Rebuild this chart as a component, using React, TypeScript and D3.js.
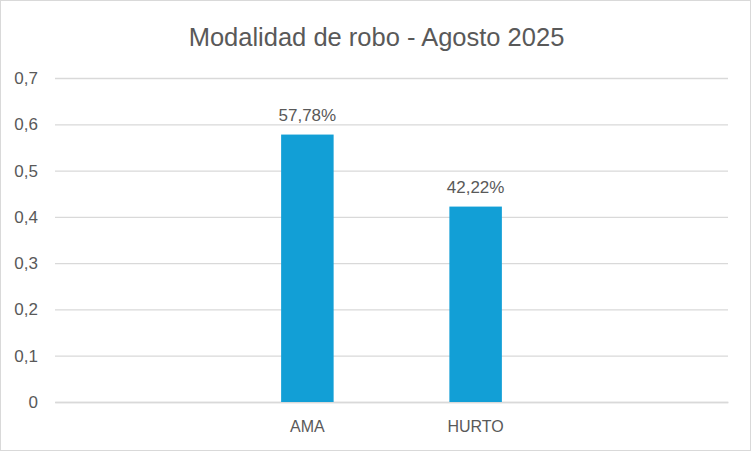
import React, { useRef, useEffect } from "react";
import { select, scaleLinear, scaleBand, axisLeft, axisBottom, range } from "d3";

const categories = ["", "AMA", "HURTO", " "];
const values = [null, 0.5778, 0.4222, null];
const valueLabels = ["", "57,78%", "42,22%", ""];
const yTicks = [0, 0.1, 0.2, 0.3, 0.4, 0.5, 0.6, 0.7];
const titleText = "Modalidad de robo - Agosto 2025";

const W = 752;
const H = 452;
const FONT = "'Liberation Sans', Arial, sans-serif";
const TEXT = "#595959";
const GRID = "#d9d9d9";
const BAR = "#129fd6";

const App: React.FC = () => {
  const ref = useRef<SVGSVGElement | null>(null);

  useEffect(() => {
    const svg = select(ref.current);
    svg.selectAll("*").remove();

    const margin = { top: 78, right: 24, bottom: 50, left: 55 };
    const innerWidth = W - margin.left - margin.right;
    const innerHeight = 402 - margin.top;

    svg
      .append("rect")
      .attr("x", 0.5)
      .attr("y", 0.5)
      .attr("width", 750)
      .attr("height", 450)
      .attr("fill", "#fff")
      .attr("stroke", GRID);

    svg
      .append("text")
      .attr("x", W / 2 + 0.5)
      .attr("y", 46)
      .attr("text-anchor", "middle")
      .attr("fill", TEXT)
      .style("font-family", FONT)
      .style("font-size", "25.5px")
      .text(titleText);

    const xScale = scaleBand<number>()
      .domain(range(categories.length))
      .range([0, innerWidth])
      .paddingInner(0)
      .paddingOuter(0);

    const yScale = scaleLinear().domain([0, 0.7]).range([innerHeight, 0]);

    const g = svg
      .append("g")
      .attr("transform", `translate(${margin.left},${margin.top})`);

    // gridlines + y labels
    const yAxisG = g
      .append("g")
      .call(
        axisLeft(yScale)
          .tickValues(yTicks)
          .tickSize(-innerWidth)
          .tickPadding(17)
          .tickFormat((d: any) => (d === 0 ? "0" : String(+(+d).toFixed(1)).replace(".", ",")))
      );
    yAxisG.select(".domain").remove();
    yAxisG.selectAll("line").attr("stroke", GRID).attr("stroke-width", 1.3);
    yAxisG
      .selectAll("text")
      .attr("fill", TEXT)
      .style("font-family", FONT)
      .style("font-size", "17px");

    const xAxisG = g
      .append("g")
      .attr("transform", `translate(0,${innerHeight})`)
      .call(
        axisBottom(xScale)
          .tickSize(0)
          .tickPadding(19)
          .tickFormat((i: any) => categories[i])
      );
    xAxisG.select(".domain").attr("stroke", GRID).attr("stroke-width", 1.3);
    xAxisG
      .selectAll("text")
      .attr("fill", TEXT)
      .style("font-family", FONT)
      .style("font-size", "16px");

    const barW = 52.5;
    const data = values
      .map((v, i) => ({ v, i }))
      .filter((d) => d.v !== null) as { v: number; i: number }[];

    g.selectAll("rect.bar")
      .data(data)
      .enter()
      .append("rect")
      .attr("class", "bar")
      .attr("x", (d) => (xScale(d.i) as number) + xScale.bandwidth() / 2 - barW / 2)
      .attr("y", (d) => yScale(d.v))
      .attr("width", barW)
      .attr("height", (d) => innerHeight - yScale(d.v))
      .attr("fill", BAR);

    g.selectAll("text.lbl")
      .data(data)
      .enter()
      .append("text")
      .attr("class", "lbl")
      .attr("x", (d) => (xScale(d.i) as number) + xScale.bandwidth() / 2)
      .attr("y", (d) => yScale(d.v) - 14)
      .attr("text-anchor", "middle")
      .attr("fill", TEXT)
      .style("font-family", FONT)
      .style("font-size", "17px")
      .text((d) => valueLabels[d.i]);
  }, []);

  return (
    <svg
      ref={ref}
      width={W}
      height={H}
      style={{ position: "absolute", left: 0, top: 0, background: "#fff" }}
    />
  );
};

export default App;
